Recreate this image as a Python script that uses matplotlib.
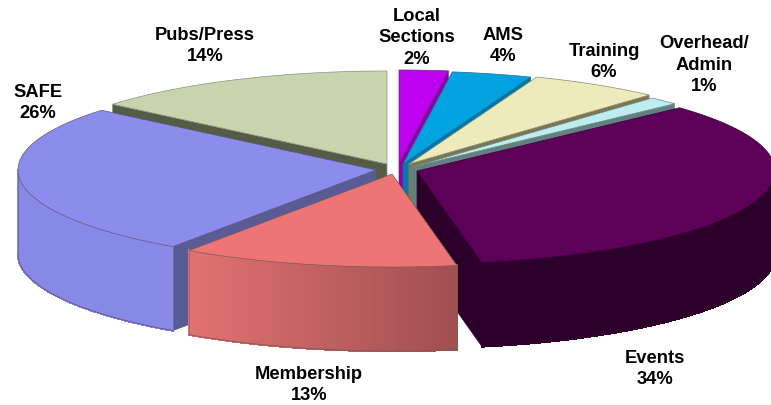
import numpy as np
import matplotlib
matplotlib.use("Agg")
import matplotlib.pyplot as plt
from matplotlib.collections import PolyCollection
from matplotlib.colors import to_rgb

# slices clockwise from 12 o'clock
names = ['Local\nSections', 'AMS', 'Training', 'Overhead/\nAdmin', 'Events', 'Membership', 'SAFE', 'Pubs/Press']
shares = [2.2, 3.6, 5.9, 1.4, 34.0, 12.5, 26.5, 13.9]
pct_labels = ['2%', '4%', '6%', '1%', '34%', '13%', '26%', '14%']

top_colors = ['#C000F0', '#00A3E0', '#EDEBBB', '#BDEDEE', '#5C0058', '#EE7575', '#8C8CEC', '#C9D4AF']
face_colors = ['#8A00AD', '#0078A8', '#7A7650', '#647F7F', '#2C002A', '#A05050', '#5A5A94', '#565B48']
edge_colors = ['#6a2a80', '#2a6a88', '#8a8a70', '#6a8a8a', '#3a0038', '#7a5a5a', '#5a5a80', '#8a9080']
# left and right shade of the outer wall
wall_left = ['#8A00AD', '#0078A8', '#7A7650', '#647F7F', '#2C002A', '#E27171', '#8888E6', '#565B48']
wall_right = ['#8A00AD', '#0078A8', '#7A7650', '#647F7F', '#2C002A', '#A04F50', '#8888E6', '#565B48']

# exploded apex of each slice, in pixels
apex_x = [399, 403, 409, 412, 417, 392, 376, 387]
apex_y = [164, 165, 165, 168, 172, 175, 171, 165]
label_x = [417, 503, 604, 704, 655, 309, 38, 205]
label_y = [38, 46, 62, 65, 369, 385, 103, 46]

RX, RY, DEPTH = 358, 93, 84
draw_order = [7, 0, 1, 2, 3, 6, 4, 5]

edges = np.concatenate([[0], np.cumsum(shares)]) / np.sum(shares) * 2 * np.pi


def rim(i, t):
    return apex_x[i] + RX * np.sin(t), apex_y[i] - RY * np.cos(t)


def draw_slice(ax, i):
    t0, t1 = edges[i], edges[i + 1]
    ts = np.linspace(t0, t1, 120)
    x, y = rim(i, ts)
    ax0, ay0 = apex_x[i], apex_y[i]
    line = edge_colors[i]

    # radial walls that face the viewer
    for t, visible in ((t0, np.sin(t0) < 0), (t1, np.sin(t1) > 0)):
        if visible:
            ex, ey = rim(i, t)
            ax.fill([ax0, ex, ex, ax0], [ay0, ey, ey + DEPTH, ay0 + DEPTH],
                    facecolor=face_colors[i], edgecolor=line, linewidth=0.5, zorder=1)

    # outer wall, only the front half shows
    front = (ts > np.pi / 2) & (ts < 3 * np.pi / 2)
    if front.any():
        fx, fy = x[front], y[front]
        c_l, c_r = np.array(to_rgb(wall_left[i])), np.array(to_rgb(wall_right[i]))
        lo, hi = fx.min(), fx.max()
        polys, cols = [], []
        for k in range(len(fx) - 1):
            polys.append([(fx[k], fy[k]), (fx[k + 1], fy[k + 1]),
                          (fx[k + 1], fy[k + 1] + DEPTH), (fx[k], fy[k] + DEPTH)])
            cols.append(c_l + (c_r - c_l) * ((fx[k] - lo) / (hi - lo)))
        ax.add_collection(PolyCollection(polys, facecolors=cols, edgecolors=cols, linewidths=1.0,
                                         antialiased=False, zorder=1))
        ax.plot(fx, fy + DEPTH, color=line, lw=0.6, zorder=1)
        ax.plot([fx[0], fx[0]], [fy[0], fy[0] + DEPTH], color=line, lw=0.4, zorder=1)
        ax.plot([fx[-1], fx[-1]], [fy[-1], fy[-1] + DEPTH], color=line, lw=0.4, zorder=1)

    # top surface
    ax.fill(np.r_[ax0, x], np.r_[ay0, y], facecolor=top_colors[i], edgecolor=line, linewidth=0.5, zorder=1)


fig = plt.figure(figsize=(7.71, 4.06), dpi=100, facecolor='white')
ax = fig.add_axes([0, 0, 1, 1])
ax.set_xlim(0, 771)
ax.set_ylim(406, 0)
ax.axis('off')

for i in draw_order:
    draw_slice(ax, i)

for i in range(len(names)):
    ax.text(label_x[i], label_y[i], f'{names[i]}\n{pct_labels[i]}', ha='center', va='center',
            family='Liberation Sans', weight='bold', fontsize=13.2, linespacing=1.33, color='black', zorder=5)

fig.savefig('out.png', dpi=100)
